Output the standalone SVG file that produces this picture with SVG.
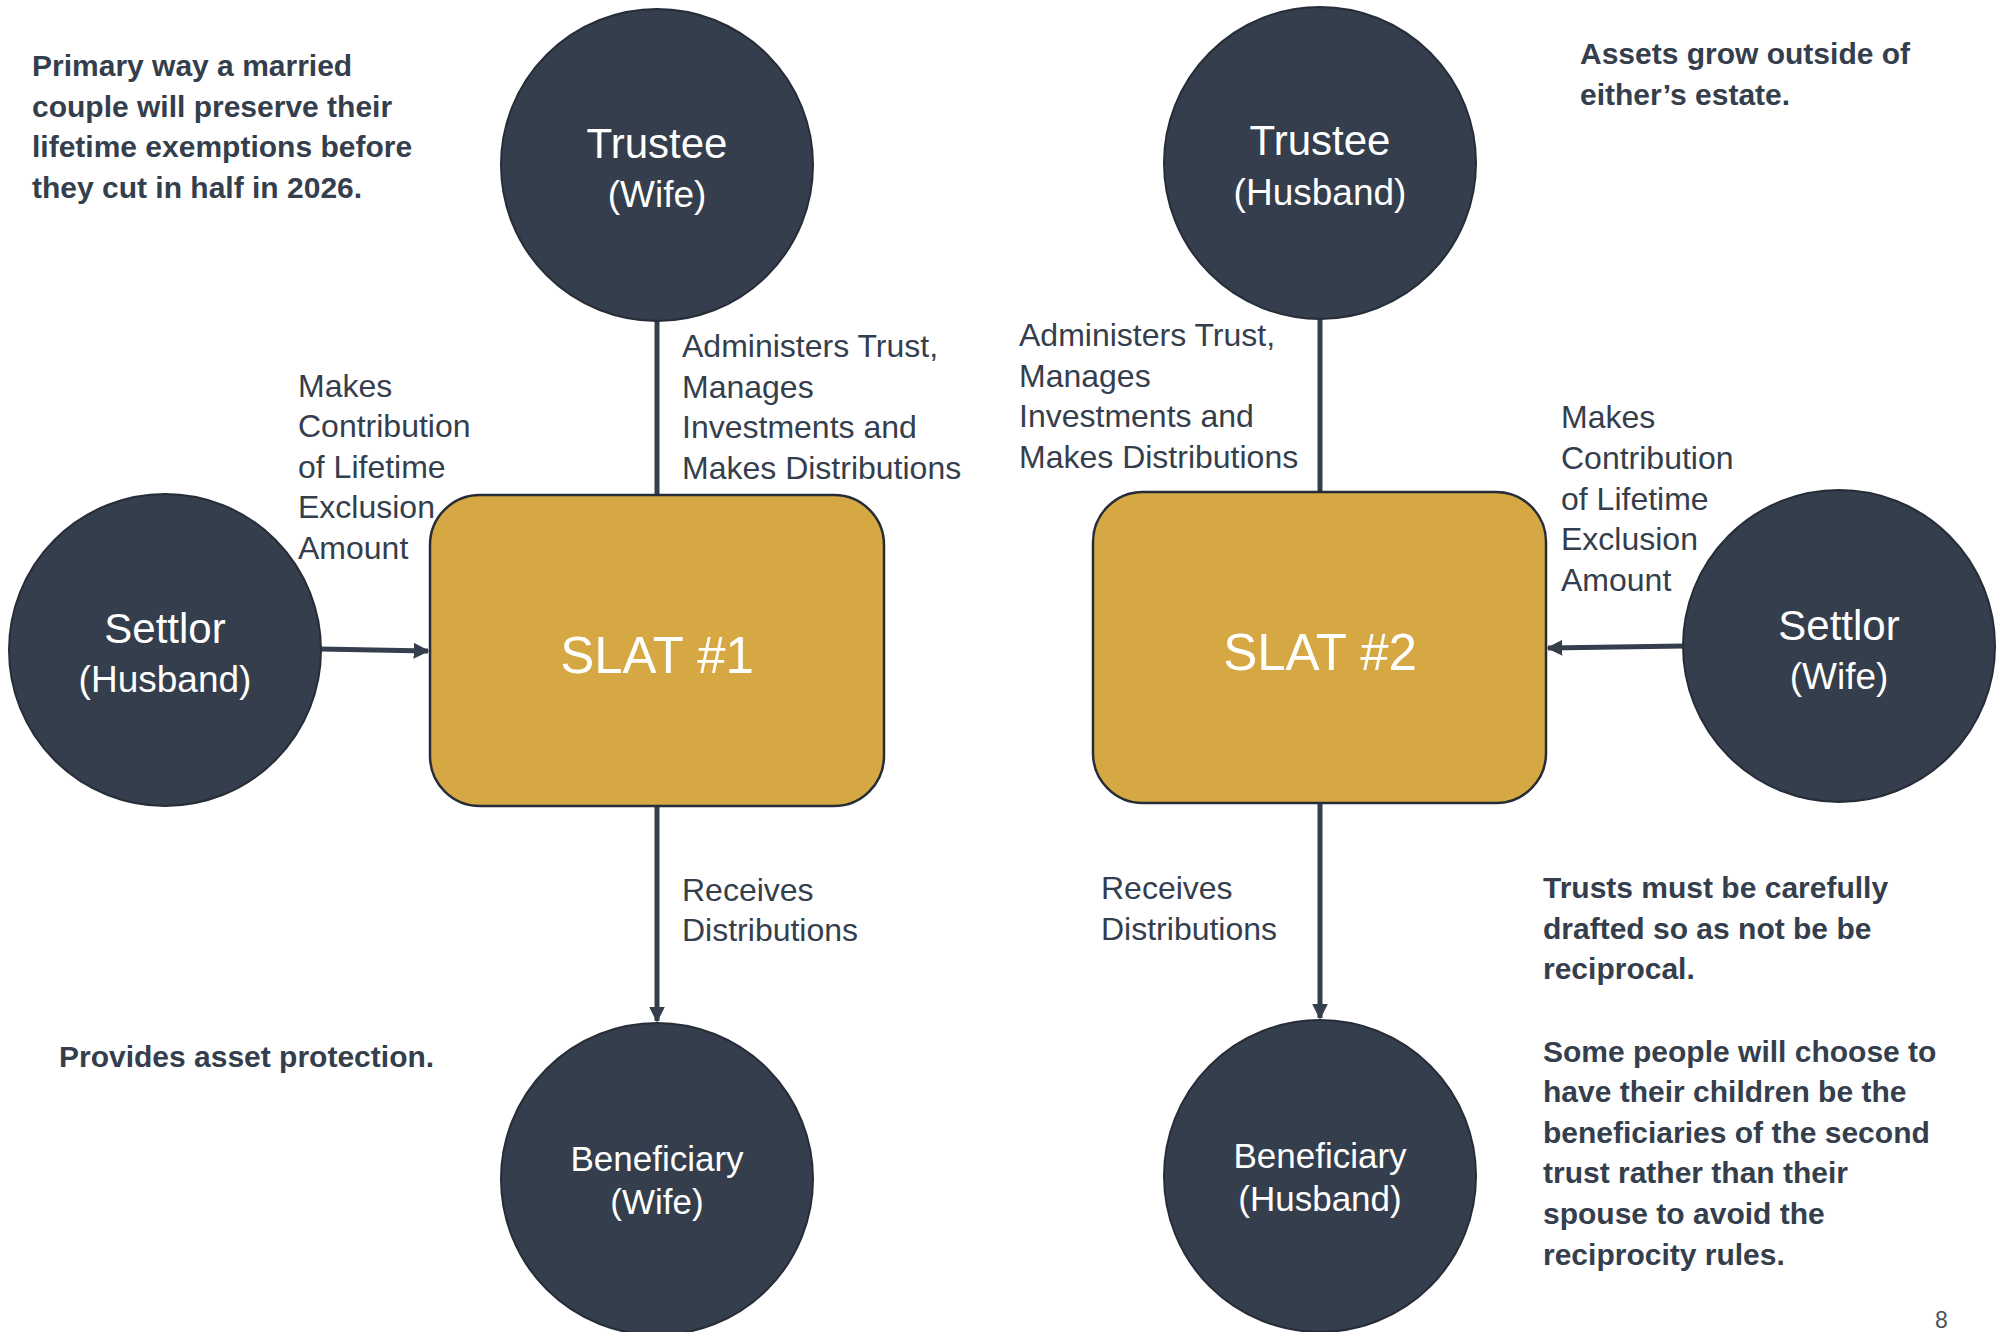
<svg xmlns="http://www.w3.org/2000/svg" width="2000" height="1332" viewBox="0 0 2000 1332">
  <style>
    .node { fill: #343e4c; stroke: #262d38; stroke-width: 2; }
    .box { fill: #d6a843; stroke: #262d38; stroke-width: 2.5; }
    .conn { stroke: #343e4c; stroke-width: 5; fill: none; }
    .t { font-family: "Liberation Sans", Arial, sans-serif; }
    .nl1 { fill: #ffffff; font-size: 42px; text-anchor: middle; }
    .nl2 { fill: #ffffff; font-size: 37px; text-anchor: middle; }
    .bl { fill: #ffffff; font-size: 35px; text-anchor: middle; }
    .slat { fill: #ffffff; font-size: 51px; text-anchor: middle; }
    .lbl { fill: #343e4c; font-size: 32px; }
    .note { fill: #343e4c; font-size: 30px; font-weight: bold; }
    .pg { fill: #4a5260; font-size: 23px; }
  </style>
  <defs>
    <marker id="arrow" viewBox="0 0 10 10" refX="9" refY="5" markerWidth="3.2" markerHeight="3.2" orient="auto" markerUnits="strokeWidth">
      <path d="M0,0 L10,5 L0,10 z" fill="#343e4c"/>
    </marker>
  </defs>

  <rect width="2000" height="1332" fill="#ffffff"/>

  <!-- connectors -->
  <g id="connectors">
    <line class="conn" x1="657" y1="321" x2="657" y2="495"/>
    <line class="conn" x1="320" y1="649" x2="428" y2="651" marker-end="url(#arrow)"/>
    <line class="conn" x1="657" y1="806" x2="657" y2="1021" marker-end="url(#arrow)"/>
    <line class="conn" x1="1320" y1="319" x2="1320" y2="492"/>
    <line class="conn" x1="1684" y1="646" x2="1548" y2="648" marker-end="url(#arrow)"/>
    <line class="conn" x1="1320" y1="804" x2="1320" y2="1018" marker-end="url(#arrow)"/>
  </g>

  <!-- SLAT #1 side -->
  <g id="trustee-wife">
    <circle class="node" cx="657" cy="165" r="156"/>
    <text class="t nl1" x="657" y="158">Trustee</text>
    <text class="t nl2" x="657" y="207">(Wife)</text>
  </g>
  <g id="settlor-husband">
    <circle class="node" cx="165" cy="650" r="156"/>
    <text class="t nl1" x="165" y="643">Settlor</text>
    <text class="t nl2" x="165" y="692">(Husband)</text>
  </g>
  <g id="slat-1">
    <rect class="box" x="430" y="495" width="454" height="311" rx="50" ry="50"/>
    <text class="t slat" x="657" y="673">SLAT #1</text>
  </g>
  <g id="beneficiary-wife">
    <circle class="node" cx="657" cy="1179" r="156"/>
    <text class="t bl" x="657" y="1171">Beneficiary</text>
    <text class="t bl" x="657" y="1214">(Wife)</text>
  </g>

  <!-- SLAT #2 side -->
  <g id="trustee-husband">
    <circle class="node" cx="1320" cy="163" r="156"/>
    <text class="t nl1" x="1320" y="155">Trustee</text>
    <text class="t nl2" x="1320" y="205">(Husband)</text>
  </g>
  <g id="settlor-wife">
    <circle class="node" cx="1839" cy="646" r="156"/>
    <text class="t nl1" x="1839" y="640">Settlor</text>
    <text class="t nl2" x="1839" y="689">(Wife)</text>
  </g>
  <g id="slat-2">
    <rect class="box" x="1093" y="492" width="453" height="311" rx="50" ry="50"/>
    <text class="t slat" x="1320" y="670">SLAT #2</text>
  </g>
  <g id="beneficiary-husband">
    <circle class="node" cx="1320" cy="1176" r="156"/>
    <text class="t bl" x="1320" y="1168">Beneficiary</text>
    <text class="t bl" x="1320" y="1211">(Husband)</text>
  </g>

  <!-- connector labels -->
  <g id="labels">
    <text class="t lbl" x="298">
      <tspan x="298" y="397">Makes</tspan>
      <tspan x="298" y="437">Contribution</tspan>
      <tspan x="298" y="478">of Lifetime</tspan>
      <tspan x="298" y="518">Exclusion</tspan>
      <tspan x="298" y="559">Amount</tspan>
    </text>
    <text class="t lbl" x="682">
      <tspan x="682" y="357">Administers Trust,</tspan>
      <tspan x="682" y="398">Manages</tspan>
      <tspan x="682" y="438">Investments and</tspan>
      <tspan x="682" y="479">Makes Distributions</tspan>
    </text>
    <text class="t lbl" x="682">
      <tspan x="682" y="901">Receives</tspan>
      <tspan x="682" y="941">Distributions</tspan>
    </text>
    <text class="t lbl" x="1019">
      <tspan x="1019" y="346">Administers Trust,</tspan>
      <tspan x="1019" y="387">Manages</tspan>
      <tspan x="1019" y="427">Investments and</tspan>
      <tspan x="1019" y="468">Makes Distributions</tspan>
    </text>
    <text class="t lbl" x="1561">
      <tspan x="1561" y="428">Makes</tspan>
      <tspan x="1561" y="469">Contribution</tspan>
      <tspan x="1561" y="510">of Lifetime</tspan>
      <tspan x="1561" y="550">Exclusion</tspan>
      <tspan x="1561" y="591">Amount</tspan>
    </text>
    <text class="t lbl" x="1101">
      <tspan x="1101" y="899">Receives</tspan>
      <tspan x="1101" y="940">Distributions</tspan>
    </text>
  </g>

  <!-- side notes -->
  <g id="notes">
    <text class="t note" x="32">
      <tspan x="32" y="76">Primary way a married</tspan>
      <tspan x="32" y="117">couple will preserve their</tspan>
      <tspan x="32" y="157">lifetime exemptions before</tspan>
      <tspan x="32" y="198">they cut in half in 2026.</tspan>
    </text>
    <text class="t note" x="1580">
      <tspan x="1580" y="64">Assets grow outside of</tspan>
      <tspan x="1580" y="105">either’s estate.</tspan>
    </text>
    <text class="t note" x="59" y="1067">Provides asset protection.</text>
    <text class="t note" x="1543">
      <tspan x="1543" y="898">Trusts must be carefully</tspan>
      <tspan x="1543" y="939">drafted so as not be be</tspan>
      <tspan x="1543" y="979">reciprocal.</tspan>
      <tspan x="1543" y="1062">Some people will choose to</tspan>
      <tspan x="1543" y="1102">have their children be the</tspan>
      <tspan x="1543" y="1143">beneficiaries of the second</tspan>
      <tspan x="1543" y="1183">trust rather than their</tspan>
      <tspan x="1543" y="1224">spouse to avoid the</tspan>
      <tspan x="1543" y="1265">reciprocity rules.</tspan>
    </text>
    <text class="t pg" x="1935" y="1328">8</text>
  </g>
</svg>
